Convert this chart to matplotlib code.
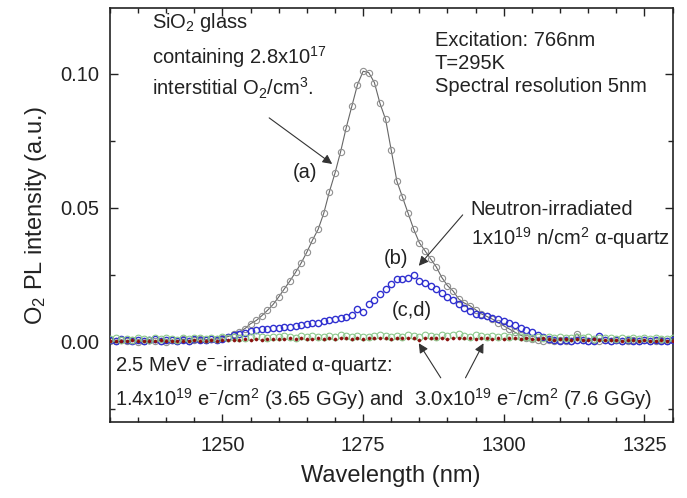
import numpy as np
import matplotlib
matplotlib.use("Agg")
import matplotlib.pyplot as plt
from matplotlib.ticker import MultipleLocator

plt.rcParams['font.family'] = ['Liberation Sans', 'DejaVu Sans']
plt.rcParams['mathtext.fontset'] = 'custom'
plt.rcParams['mathtext.rm'] = 'Liberation Sans'
plt.rcParams['mathtext.it'] = 'Liberation Sans:italic'
plt.rcParams['mathtext.bf'] = 'Liberation Sans:bold'

wavelength = np.arange(1230, 1331)  # nm, 1 nm steps

# (a) SiO2 glass with interstitial O2
curve_a = [
    0.0005, 0.0002, 0.0008, 0.0003, 0.0006, 0.0000, 0.0004, 0.0009, 0.0002, 0.0005,
    0.0001, 0.0007, 0.0003, 0.0010, 0.0004, 0.0006, 0.0012, 0.0008, 0.0010, 0.0011,
    0.0015, 0.0020, 0.0028, 0.0038, 0.0050, 0.0068, 0.0080, 0.0098, 0.0118, 0.0140,
    0.0168, 0.0198, 0.0228, 0.0260, 0.0295, 0.0335, 0.0380, 0.0420, 0.0480, 0.0560,
    0.0630, 0.0710, 0.0800, 0.0880, 0.0960, 0.1010, 0.1005, 0.0968, 0.0890, 0.0830,
    0.0715, 0.0600, 0.0540, 0.0480, 0.0420, 0.0370, 0.0340, 0.0310, 0.0280, 0.0240,
    0.0210, 0.0190, 0.0160, 0.0145, 0.0135, 0.0120, 0.0105, 0.0095, 0.0085, 0.0072,
    0.0060, 0.0048, 0.0036, 0.0025, 0.0016, 0.0010, 0.0006, 0.0004, 0.0008, 0.0003,
    0.0006, 0.0002, 0.0005, 0.0030, 0.0007, 0.0004, 0.0009, 0.0003, 0.0006, 0.0002,
    0.0008, 0.0005, 0.0003, 0.0007, 0.0004, 0.0006, 0.0002, 0.0005, 0.0008, 0.0004,
    0.0006]

# (b) neutron-irradiated alpha-quartz
curve_b = [
    0.0008, 0.0005, 0.0010, 0.0006, 0.0003, 0.0009, 0.0004, 0.0007, 0.0011, 0.0002,
    0.0006, 0.0009, 0.0004, 0.0008, 0.0003, 0.0010, 0.0006, 0.0008, 0.0012, 0.0009,
    0.0012, 0.0018, 0.0024, 0.0029, 0.0034, 0.0039, 0.0043, 0.0047, 0.0049, 0.0051,
    0.0053, 0.0054, 0.0057, 0.0060, 0.0062, 0.0066, 0.0069, 0.0072, 0.0078, 0.0082,
    0.0085, 0.0088, 0.0093, 0.0102, 0.0124, 0.0112, 0.0140, 0.0155, 0.0178, 0.0198,
    0.0215, 0.0234, 0.0236, 0.0238, 0.0248, 0.0226, 0.0221, 0.0210, 0.0196, 0.0182,
    0.0168, 0.0157, 0.0141, 0.0126, 0.0114, 0.0106, 0.0100, 0.0097, 0.0091, 0.0084,
    0.0078, 0.0072, 0.0062, 0.0051, 0.0044, 0.0036, 0.0026, 0.0017, 0.0011, 0.0008,
    0.0004, 0.0007, 0.0003, 0.0006, 0.0009, 0.0005, 0.0002, 0.0022, 0.0007, 0.0004,
    0.0006, 0.0003, 0.0008, 0.0005, 0.0002, 0.0006, 0.0004, 0.0007, 0.0003, 0.0005,
    0.0006]

# (c) 1.4e19 e-/cm2 electron-irradiated alpha-quartz
curve_c = [
    0.0010, 0.0013, 0.0008, 0.0012, 0.0009, 0.0014, 0.0011, 0.0007, 0.0013, 0.0010,
    0.0015, 0.0012, 0.0009, 0.0014, 0.0011, 0.0016, 0.0013, 0.0010, 0.0015, 0.0012,
    0.0017, 0.0014, 0.0019, 0.0016, 0.0013, 0.0018, 0.0021, 0.0017, 0.0015, 0.0020,
    0.0018, 0.0022, 0.0019, 0.0016, 0.0021, 0.0018, 0.0023, 0.0020, 0.0017, 0.0022,
    0.0019, 0.0024, 0.0021, 0.0018, 0.0023, 0.0020, 0.0017, 0.0022, 0.0025, 0.0021,
    0.0018, 0.0023, 0.0020, 0.0024, 0.0021, 0.0019, 0.0026, 0.0022, 0.0019, 0.0024,
    0.0021, 0.0025, 0.0028, 0.0023, 0.0020, 0.0024, 0.0021, 0.0019, 0.0023, 0.0020,
    0.0022, 0.0018, 0.0021, 0.0017, 0.0020, 0.0016, 0.0019, 0.0015, 0.0018, 0.0014,
    0.0017, 0.0013, 0.0016, 0.0019, 0.0014, 0.0017, 0.0012, 0.0016, 0.0013, 0.0015,
    0.0011, 0.0014, 0.0012, 0.0015, 0.0010, 0.0013, 0.0011, 0.0014, 0.0012, 0.0010,
    0.0013]

# (d) 3.0e19 e-/cm2 electron-irradiated alpha-quartz
curve_d = [
    0.0004, 0.0002, 0.0005, 0.0003, 0.0006, 0.0002, 0.0004, 0.0005, 0.0003, 0.0006,
    0.0004, 0.0002, 0.0005, 0.0003, 0.0004, 0.0006, 0.0003, 0.0005, 0.0007, 0.0004,
    0.0008, 0.0006, 0.0009, 0.0007, 0.0010, 0.0008, 0.0011, 0.0009, 0.0012, 0.0010,
    0.0012, 0.0010, 0.0013, 0.0011, 0.0014, 0.0012, 0.0010, 0.0013, 0.0011, 0.0014,
    0.0012, 0.0015, 0.0013, 0.0011, 0.0014, 0.0012, 0.0015, 0.0013, 0.0016, 0.0014,
    0.0012, 0.0015, 0.0013, 0.0016, 0.0014, 0.0008, 0.0015, 0.0013, 0.0016, 0.0014,
    0.0012, 0.0015, 0.0013, 0.0016, 0.0014, 0.0012, 0.0015, 0.0013, 0.0011, 0.0014,
    0.0012, 0.0015, 0.0013, 0.0011, 0.0014, 0.0012, 0.0010, 0.0013, 0.0011, 0.0009,
    0.0012, 0.0010, 0.0008, 0.0011, 0.0009, 0.0007, 0.0010, 0.0008, 0.0006, 0.0009,
    0.0007, 0.0005, 0.0008, 0.0006, 0.0004, 0.0007, 0.0005, 0.0003, 0.0006, 0.0004,
    0.0005]

fig = plt.figure(figsize=(6.87, 4.98), dpi=100)
ax = fig.add_axes([0.1601, 0.152, 0.8188, 0.8319])

ax.plot(wavelength, curve_a, '-', color='#666666', lw=0.8, marker='o', ms=4.5,
        mfc='none', mec='#909090', mew=0.8, zorder=2)
ax.plot(wavelength, curve_b, 'none', marker='o', ms=4.5, mfc='none',
        mec='#3030d0', mew=1.0, zorder=3)
ax.plot(wavelength, curve_c, 'none', marker='o', ms=4.8, mfc='none',
        mec='#8cc88c', mew=0.8, zorder=4)
ax.plot(wavelength, curve_d, 'none', marker='o', ms=2.3, mfc='#8b1010',
        mec='#8b1010', mew=0.3, zorder=5)

ax.set_xlim(1230, 1330)
ax.set_ylim(-0.03, 0.1246)
ax.xaxis.set_major_locator(MultipleLocator(25))
ax.xaxis.set_minor_locator(MultipleLocator(5))
ax.yaxis.set_major_locator(MultipleLocator(0.05))
ax.yaxis.set_minor_locator(MultipleLocator(0.025))
ax.set_yticks([0.0, 0.05, 0.10])
ax.set_yticklabels(['0.00', '0.05', '0.10'])
ax.tick_params(which='both', direction='in', top=True, right=True,
               labelsize=14.5, colors='#222222', width=1.0)
ax.tick_params(axis='x', which='major', length=6, pad=10)
ax.tick_params(axis='y', which='major', length=6, pad=8)
ax.tick_params(which='minor', length=3.5)
for s in ax.spines.values():
    s.set_linewidth(1.2)
    s.set_color('#222222')

ax.set_xlabel('Wavelength (nm)', fontsize=17, labelpad=7, color='#222222')
ax.set_ylabel('O$_2$ PL intensity (a.u.)', fontsize=17, labelpad=8, color='#222222')

fs = 14.5
tc = '#222222'
# left block
ax.text(1237.4, 0.1172, 'SiO$_2$ glass', fontsize=fs, color=tc, va='baseline')
ax.text(1237.4, 0.1036, 'containing 2.8x10$^{17}$', fontsize=fs, color=tc, va='baseline')
ax.text(1237.4, 0.0918, 'interstitial O$_2$/cm$^3$.', fontsize=fs, color=tc, va='baseline')
# right block
ax.text(1287.7, 0.1105, 'Excitation: 766nm', fontsize=fs, color=tc, va='baseline')
ax.text(1287.7, 0.1018, 'T=295K', fontsize=fs, color=tc, va='baseline')
ax.text(1287.7, 0.0931, 'Spectral resolution 5nm', fontsize=fs, color=tc, va='baseline')

arrow = dict(arrowstyle='-|>', color='#333333', lw=0.8, mutation_scale=14,
             shrinkA=0, shrinkB=0)
ax.text(1264.7, 0.0634, '(a)', fontsize=fs, color=tc, ha='center', va='center')
ax.annotate('', xy=(1269.5, 0.0664), xytext=(1258.3, 0.0836), arrowprops=arrow)

ax.text(1280.8, 0.0313, '(b)', fontsize=fs, color=tc, ha='center', va='center')
ax.annotate('', xy=(1284.9, 0.0284), xytext=(1292.7, 0.0474), arrowprops=arrow)
ax.text(1294.1, 0.0474, 'Neutron-irradiated', fontsize=fs, color=tc, va='baseline')
ax.text(1294.1, 0.0362, '1x10$^{19}$ n/cm$^2$ α-quartz', fontsize=fs, color=tc, va='baseline')

ax.text(1283.6, 0.0116, '(c,d)', fontsize=fs, color=tc, ha='center', va='center')
ax.annotate('', xy=(1284.9, -0.0005), xytext=(1288.8, -0.0134), arrowprops=arrow)
ax.annotate('', xy=(1296.4, -0.0005), xytext=(1293.2, -0.0134), arrowprops=arrow)

ax.text(1230.9, -0.0108, '2.5 MeV e$^{-}$-irradiated α-quartz:', fontsize=fs,
        color=tc, va='baseline')
ax.text(1230.9, -0.0239,
        '1.4x10$^{19}$ e$^{-}$/cm$^2$ (3.65 GGy) and  3.0x10$^{19}$ e$^{-}$/cm$^2$ (7.6 GGy)',
        fontsize=fs, color=tc, va='baseline')

fig.savefig('out.png', dpi=100)
